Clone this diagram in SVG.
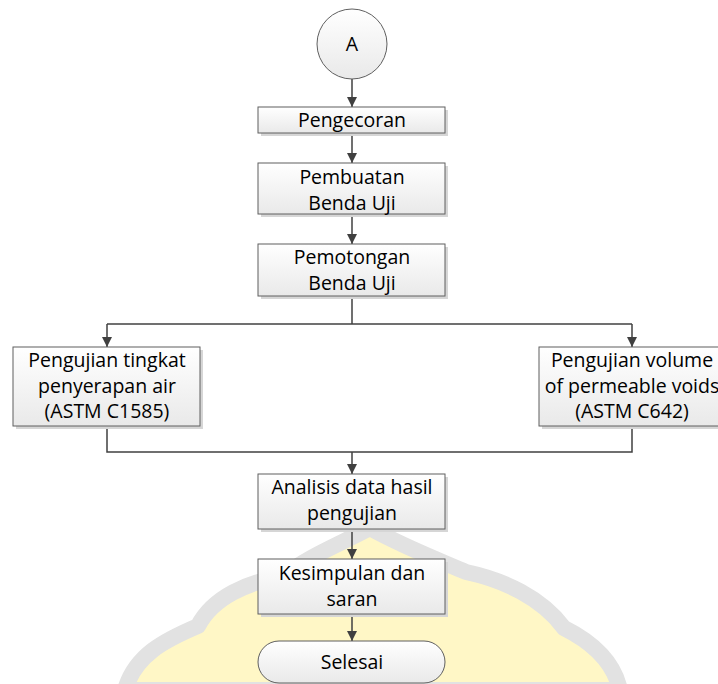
<svg xmlns="http://www.w3.org/2000/svg" width="718" height="684" viewBox="0 0 718 684">
  <defs>
    <linearGradient id="boxGrad" x1="0" y1="0" x2="0" y2="1">
      <stop offset="0" stop-color="#ffffff"/>
      <stop offset="1" stop-color="#e9e9e9"/>
    </linearGradient>
    <marker id="arrow" viewBox="0 0 10 10" refX="10" refY="5" markerWidth="10" markerHeight="10" markerUnits="userSpaceOnUse" orient="auto">
      <path d="M0,0 L10,5 L0,10 Z" fill="#404040"/>
    </marker>
    <style>
      .box { fill: url(#boxGrad); stroke: #5f5f5f; stroke-width: 1; }
      .shadow { fill: #d6d6d6; }
      .label { font-family: "Open Sans", "Liberation Sans", sans-serif; font-size: 19.5px; fill: #000000; text-anchor: middle; }
      .conn { fill: none; stroke: #404040; stroke-width: 1.5; }
    </style>
  </defs>
  <rect width="718" height="684" fill="#ffffff"/>

  <!-- watermark -->
  <g id="watermark" opacity="0.85">
    <path d="M 125 690 C 135 655, 165 640, 198 626 C 213 597, 248 582, 284 576 C 305 558, 338 545, 370 528 C 402 546, 438 560, 466 572 C 504 580, 542 598, 564 628 C 592 642, 614 662, 620 690 Z" fill="#fff6bd" stroke="#dddddd" stroke-width="16" stroke-linejoin="round"/>
  </g>

  <g id="connectors">
    <line class="conn" x1="352" y1="79" x2="352" y2="107" marker-end="url(#arrow)"/>
    <line class="conn" x1="352" y1="133" x2="352" y2="163" marker-end="url(#arrow)"/>
    <line class="conn" x1="352" y1="214" x2="352" y2="244" marker-end="url(#arrow)"/>
    <polyline class="conn" points="352,296 352,324"/>
    <polyline class="conn" points="107,324 632,324"/>
    <line class="conn" x1="107" y1="324" x2="107" y2="347" marker-end="url(#arrow)"/>
    <line class="conn" x1="632" y1="324" x2="632" y2="347" marker-end="url(#arrow)"/>
    <polyline class="conn" points="107,426 107,452 632,452 632,426"/>
    <line class="conn" x1="352" y1="452" x2="352" y2="474" marker-end="url(#arrow)"/>
    <line class="conn" x1="352" y1="529" x2="352" y2="559" marker-end="url(#arrow)"/>
    <line class="conn" x1="352" y1="614" x2="352" y2="641" marker-end="url(#arrow)"/>
  </g>

  <g id="nodeA">
    <circle cx="352" cy="44" r="35" class="box"/>
    <text class="label" x="352" y="51">A</text>
  </g>

  <g id="pengecoran">
    <rect class="shadow" x="261" y="110" width="187" height="26"/>
    <rect class="box" x="258" y="107" width="187" height="26"/>
    <text class="label" x="352" y="127">Pengecoran</text>
  </g>

  <g id="pembuatan">
    <rect class="shadow" x="261" y="166" width="187" height="51"/>
    <rect class="box" x="258" y="163" width="187" height="51"/>
    <text class="label" x="352" y="184">Pembuatan</text>
    <text class="label" x="352" y="210">Benda Uji</text>
  </g>

  <g id="pemotongan">
    <rect class="shadow" x="261" y="247" width="187" height="52"/>
    <rect class="box" x="258" y="244" width="187" height="52"/>
    <text class="label" x="352" y="264">Pemotongan</text>
    <text class="label" x="352" y="290">Benda Uji</text>
  </g>

  <g id="penyerapan">
    <rect class="shadow" x="16" y="350" width="187" height="79"/>
    <rect class="box" x="13" y="347" width="187" height="79"/>
    <text class="label" x="107" y="367">Pengujian tingkat</text>
    <text class="label" x="107" y="393">penyerapan air</text>
    <text class="label" x="107" y="418">(ASTM C1585)</text>
  </g>

  <g id="voids">
    <rect class="shadow" x="542" y="350" width="187" height="79"/>
    <rect class="box" x="539" y="347" width="187" height="79"/>
    <text class="label" x="632" y="367">Pengujian volume</text>
    <text class="label" x="632" y="393">of permeable voids</text>
    <text class="label" x="632" y="418">(ASTM C642)</text>
  </g>

  <g id="analisis">
    <rect class="shadow" x="261" y="477" width="187" height="55"/>
    <rect class="box" x="258" y="474" width="187" height="55"/>
    <text class="label" x="352" y="494">Analisis data hasil</text>
    <text class="label" x="352" y="520">pengujian</text>
  </g>

  <g id="kesimpulan">
    <rect class="shadow" x="261" y="562" width="187" height="55"/>
    <rect class="box" x="258" y="559" width="187" height="55"/>
    <text class="label" x="352" y="580">Kesimpulan dan</text>
    <text class="label" x="352" y="606">saran</text>
  </g>

  <g id="selesai">
    <rect class="box" x="258" y="641" width="187" height="42" rx="21" ry="21"/>
    <text class="label" x="352" y="669">Selesai</text>
  </g>
</svg>
